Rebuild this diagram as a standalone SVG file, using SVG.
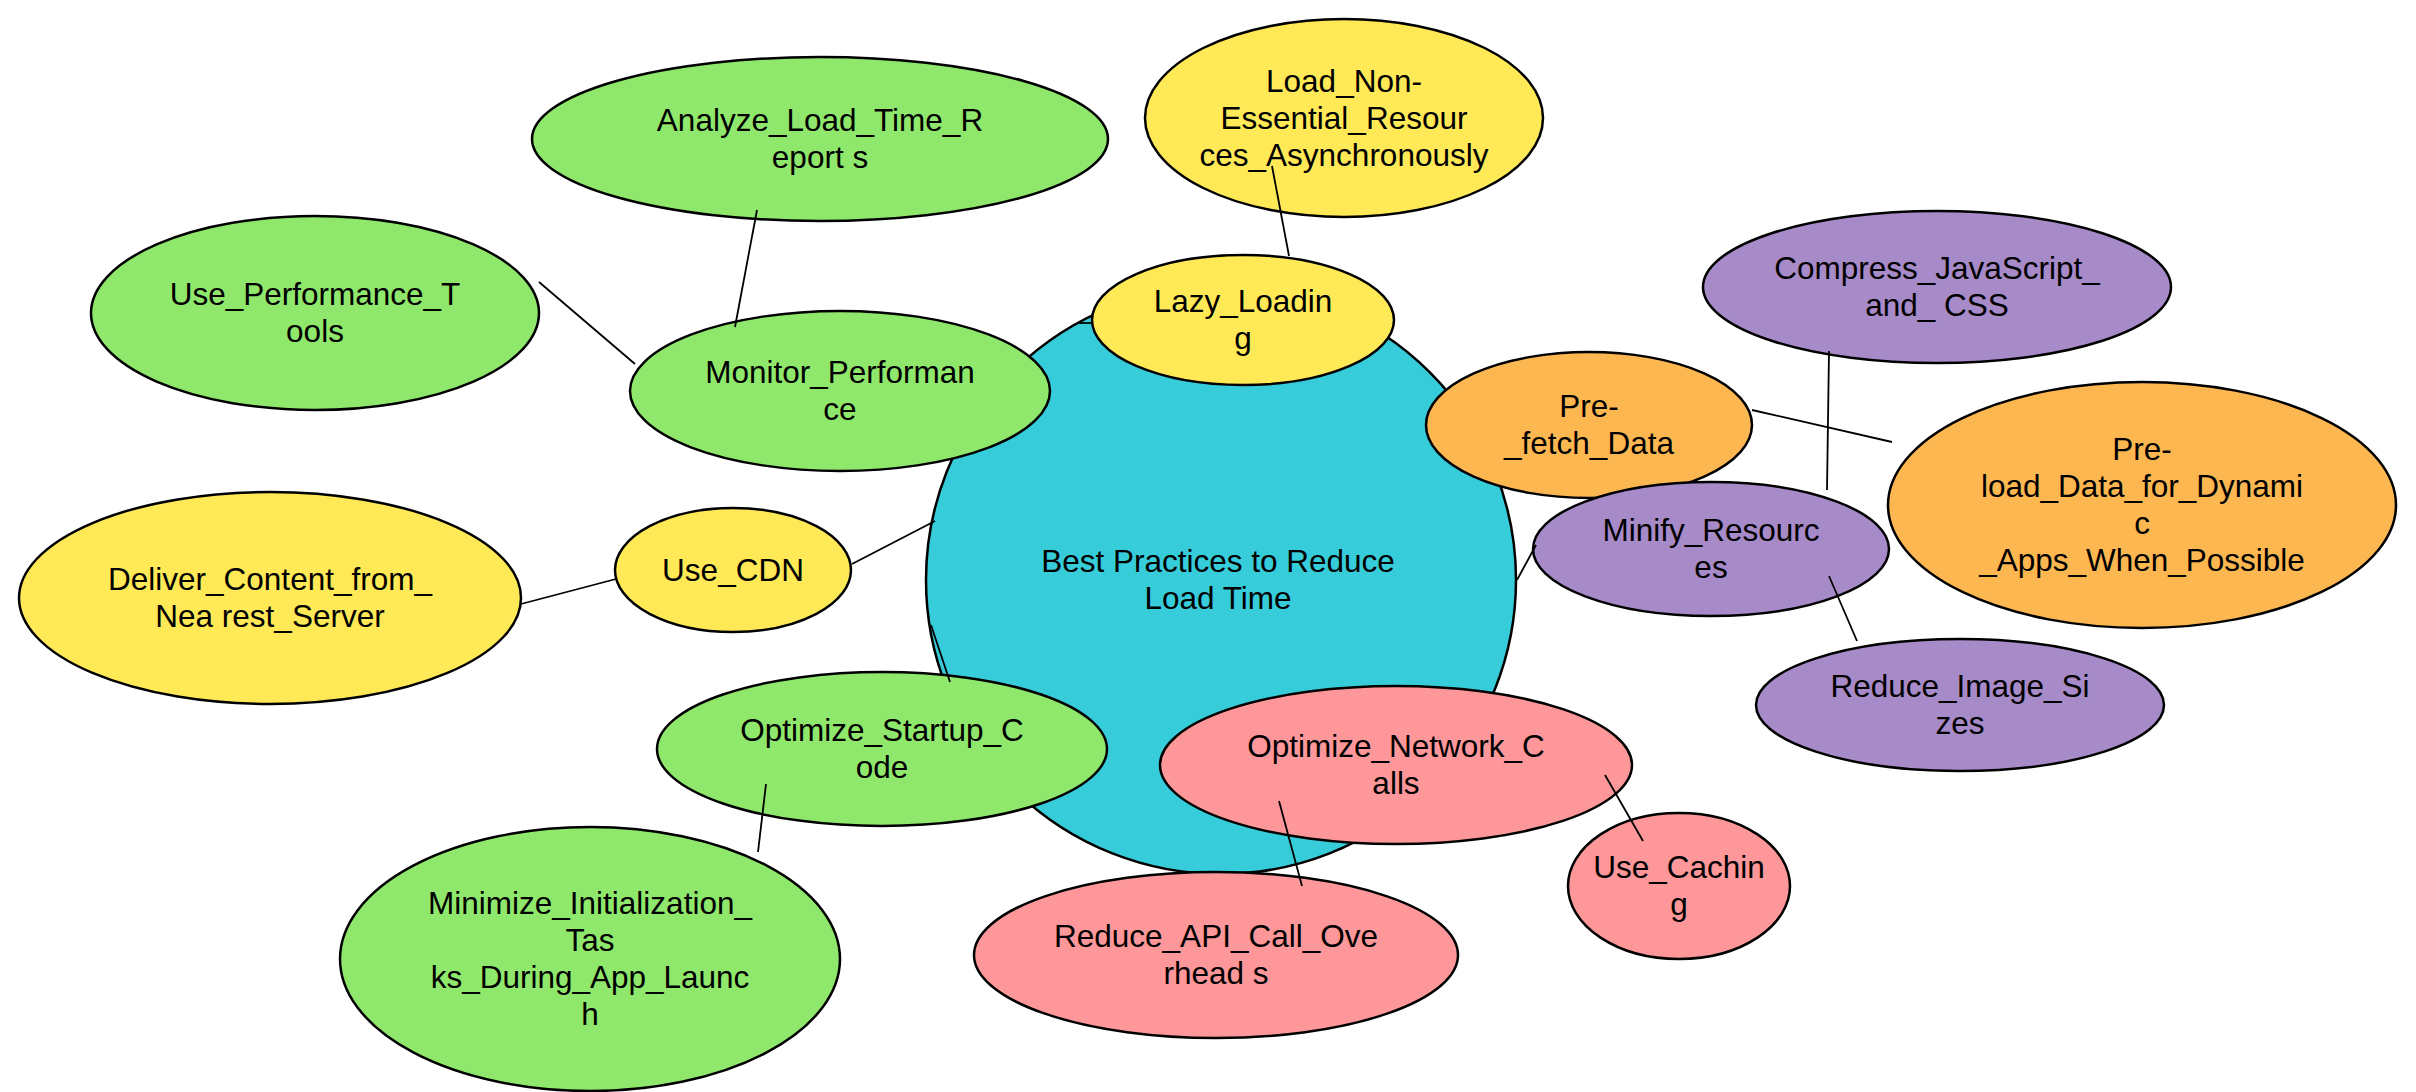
<svg xmlns="http://www.w3.org/2000/svg" width="2416" height="1092" viewBox="0 0 2416 1092">
<style>
.n{stroke:#000;stroke-width:2.5}
.c{fill:#37CCDA}.g{fill:#8FE86B}.y{fill:#FFE957}.o{fill:#FDB751}.p{fill:#A78AC8}.r{fill:#FD9799}
text{font-family:"Liberation Sans",Arial,Helvetica,sans-serif;font-size:31.5px;fill:#000;text-anchor:middle}
#edges line{stroke:#000;stroke-width:1.8}
</style>
<rect width="2416" height="1092" fill="#fff"/>
<g id="n-center"><ellipse class="n c" cx="1221" cy="580" rx="295" ry="294"/>
<text x="1218" y="572">Best Practices to Reduce</text><text x="1218" y="609">Load Time</text></g>
<g id="n-load-non"><ellipse class="n y" cx="1344" cy="118" rx="199" ry="99"/>
<text x="1344" y="92">Load_Non-</text><text x="1344" y="129">Essential_Resour</text><text x="1344" y="166">ces_Asynchronously</text></g>
<g id="n-lazy"><ellipse class="n y" cx="1243" cy="320" rx="151" ry="65"/>
<text x="1243" y="312">Lazy_Loadin</text><text x="1243" y="349">g</text></g>
<g id="n-analyze"><ellipse class="n g" cx="820" cy="139" rx="288" ry="82"/>
<text x="820" y="131">Analyze_Load_Time_R</text><text x="820" y="168">eport s</text></g>
<g id="n-useperf"><ellipse class="n g" cx="315" cy="313" rx="224" ry="97"/>
<text x="315" y="305">Use_Performance_T</text><text x="315" y="342">ools</text></g>
<g id="n-monitor"><ellipse class="n g" cx="840" cy="391" rx="210" ry="80"/>
<text x="840" y="383">Monitor_Performan</text><text x="840" y="420">ce</text></g>
<g id="n-deliver"><ellipse class="n y" cx="270" cy="598" rx="251" ry="106"/>
<text x="270" y="590">Deliver_Content_from_</text><text x="270" y="627">Nea rest_Server</text></g>
<g id="n-cdn"><ellipse class="n y" cx="733" cy="570" rx="118" ry="62"/>
<text x="733" y="581">Use_CDN</text></g>
<g id="n-startup"><ellipse class="n g" cx="882" cy="749" rx="225" ry="77"/>
<text x="882" y="741">Optimize_Startup_C</text><text x="882" y="778">ode</text></g>
<g id="n-minimize"><ellipse class="n g" cx="590" cy="959" rx="250" ry="132"/>
<text x="590" y="914">Minimize_Initialization_</text><text x="590" y="951">Tas</text><text x="590" y="988">ks_During_App_Launc</text><text x="590" y="1025">h</text></g>
<g id="n-api"><ellipse class="n r" cx="1216" cy="955" rx="242" ry="83"/>
<text x="1216" y="947">Reduce_API_Call_Ove</text><text x="1216" y="984">rhead s</text></g>
<g id="n-network"><ellipse class="n r" cx="1396" cy="765" rx="236" ry="79"/>
<text x="1396" y="757">Optimize_Network_C</text><text x="1396" y="794">alls</text></g>
<g id="n-caching"><ellipse class="n r" cx="1679" cy="886" rx="111" ry="73"/>
<text x="1679" y="878">Use_Cachin</text><text x="1679" y="915">g</text></g>
<g id="n-prefetch"><ellipse class="n o" cx="1589" cy="425" rx="163" ry="73"/>
<text x="1589" y="417">Pre-</text><text x="1589" y="454">_fetch_Data</text></g>
<g id="n-compress"><ellipse class="n p" cx="1937" cy="287" rx="234" ry="76"/>
<text x="1937" y="279">Compress_JavaScript_</text><text x="1937" y="316">and_ CSS</text></g>
<g id="n-minify"><ellipse class="n p" cx="1711" cy="549" rx="178" ry="67"/>
<text x="1711" y="541">Minify_Resourc</text><text x="1711" y="578">es</text></g>
<g id="n-preload"><ellipse class="n o" cx="2142" cy="505" rx="254" ry="123"/>
<text x="2142" y="460">Pre-</text><text x="2142" y="497">load_Data_for_Dynami</text><text x="2142" y="534">c</text><text x="2142" y="571">_Apps_When_Possible</text></g>
<g id="n-reduceimg"><ellipse class="n p" cx="1960" cy="705" rx="204" ry="66"/>
<text x="1960" y="697">Reduce_Image_Si</text><text x="1960" y="734">zes</text></g>
<g id="edges">
<line x1="539" y1="282" x2="635" y2="364"/>
<line x1="757" y1="210" x2="735" y2="327"/>
<line x1="1272" y1="166" x2="1289" y2="256"/>
<line x1="1077" y1="323" x2="1093" y2="323"/>
<line x1="852" y1="564" x2="935" y2="521"/>
<line x1="521" y1="604" x2="616" y2="579"/>
<line x1="931" y1="625" x2="950" y2="682"/>
<line x1="766" y1="784" x2="758" y2="852"/>
<line x1="1752" y1="410" x2="1892" y2="442"/>
<line x1="1829" y1="351" x2="1827" y2="490"/>
<line x1="1536" y1="545" x2="1517" y2="580"/>
<line x1="1829" y1="576" x2="1857" y2="641"/>
<line x1="1605" y1="775" x2="1643" y2="841"/>
<line x1="1279" y1="801" x2="1302" y2="886"/>
</g>
</svg>
